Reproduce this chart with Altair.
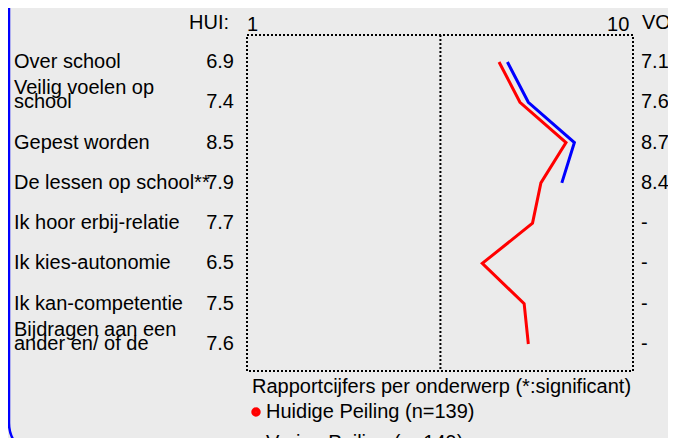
import altair as alt
import pandas as pd

# ---- data ----
categories = [
    "Over school",
    "Veilig voelen op|school",
    "Gepest worden",
    "De lessen op school**",
    "Ik hoor erbij-relatie",
    "Ik kies-autonomie",
    "Ik kan-competentie",
    "Bijdragen aan een|ander en/ of de",
]
hui_values = [6.9, 7.4, 8.5, 7.9, 7.7, 6.5, 7.5, 7.6]
vo_values = [7.1, 7.6, 8.7, 8.4, None, None, None, None]
series_names = ["Huidige Peiling (n=139)", "Vorige Peiling (n=149)"]
series_colors = ["#FF0000", "#0000FF"]
legend_title = "Rapportcijfers per onderwerp (*:significant)"
x_tick_values = [1, 10]
x_domain = [0.88, 10.1]
mid_value = [5.5]
headers = ["HUI:", "VO:"]
missing_label = "-"

FONT = "Liberation Sans"
FS = 20
LH = 14.5

# ---- tables ----
rows = []
for i, (c, v) in enumerate(zip(categories, hui_values)):
    rows.append({"category": c, "idx": i, "value": v, "series": series_names[0]})
for i, (c, v) in enumerate(zip(categories, vo_values)):
    if v is not None:
        rows.append({"category": c, "idx": i, "value": v, "series": series_names[1]})
df_line = pd.DataFrame(rows)

df_text = pd.DataFrame({
    "category": categories,
    "hui": [f"{v:.1f}" for v in hui_values],
    "vo": [f"{v:.1f}" if v is not None else missing_label for v in vo_values],
})
df_mid = pd.DataFrame({"value": mid_value})
df_one = pd.DataFrame({"a": [0]})

color_scale = alt.Scale(domain=series_names, range=series_colors)

x_enc = alt.X(
    "value:Q",
    title=None,
    scale=alt.Scale(domain=x_domain, nice=False, zero=False),
    axis=alt.Axis(
        orient="top", values=x_tick_values, ticks=False, tickSize=0,
        domain=False, grid=False, labelPadding=1, labelFontSize=FS, labelColor="black",
        labelFont=FONT,
        labelAlign={
            "condition": {"test": f"datum.value >= {x_tick_values[-1]}", "value": "right"},
            "value": "center",
        },
    ),
)
y_enc = alt.Y(
    "category:N",
    title=None,
    sort=categories,
    scale=alt.Scale(type="point", padding=0.67),
    axis=None,
)

frame = alt.Chart(df_one).mark_rect(
    cornerRadius=34, fillOpacity=0, stroke="#0000FF", strokeWidth=2.5
).encode(
    x=alt.value(-238), x2=alt.value(432), y=alt.value(-80), y2=alt.value(422)
)

mid_rule = alt.Chart(df_mid).mark_rule(
    color="black", strokeWidth=2, strokeDash=[2, 2]
).encode(x=x_enc)

lines = alt.Chart(df_line).mark_line().encode(
    x=x_enc,
    y=y_enc,
    strokeWidth=alt.value(3),
    stroke=alt.Stroke(
        "series:N", scale=color_scale,
        legend=alt.Legend(
            title=None, orient="none", legendX=-1, legendY=367,
            labelFontSize=FS, labelColor="black", labelFont=FONT,
            labelLimit=800, symbolType="circle", symbolSize=20, symbolStrokeWidth=5,
            rowPadding=5, labelOffset=0, padding=0,
        ),
    ),
    order=alt.Order("idx:Q"),
)

legend_head = alt.Chart(df_one).mark_text(
    align="left", baseline="alphabetic", fontSize=FS, font=FONT, color="black"
).encode(x=alt.value(5), y=alt.value(358), text=alt.value(legend_title))

cat_single = alt.Chart(df_text).transform_filter(
    "indexof(datum.category, '|') < 0"
).mark_text(
    align="left", baseline="middle", fontSize=FS, font=FONT, color="black"
).encode(y=y_enc, x=alt.value(-233), text="category:N")

cat_multi = alt.Chart(df_text).transform_filter(
    "indexof(datum.category, '|') >= 0"
).mark_text(
    align="left", baseline="middle", fontSize=FS, font=FONT, color="black",
    lineBreak="|", lineHeight=LH, dy=-LH,
).encode(y=y_enc, x=alt.value(-233), text="category:N")

hui_text = alt.Chart(df_text).mark_text(
    align="right", baseline="middle", fontSize=FS, font=FONT, color="black"
).encode(y=y_enc, x=alt.value(-13), text="hui:N")

vo_text = alt.Chart(df_text).mark_text(
    align="left", baseline="middle", fontSize=FS, font=FONT, color="black"
).encode(y=y_enc, x=alt.value(394), text="vo:N")

hui_head = alt.Chart(df_one).mark_text(
    align="right", baseline="alphabetic", fontSize=FS, font=FONT, color="black"
).encode(x=alt.value(-18), y=alt.value(-6), text=alt.value(headers[0]))

vo_head = alt.Chart(df_one).mark_text(
    align="left", baseline="alphabetic", fontSize=FS, font=FONT, color="black"
).encode(x=alt.value(395), y=alt.value(-6), text=alt.value(headers[1]))

chart = alt.layer(
    frame, mid_rule, lines, legend_head, cat_single, cat_multi, hui_text, vo_text,
    hui_head, vo_head
).properties(
    width=386, height=336,
    autosize=alt.AutoSizeParams(type="none"),
    padding={"left": 239, "top": 27, "right": 35, "bottom": 67},
).configure(
    background="#EBEBEB", font=FONT,
).configure_view(
    stroke="black", strokeWidth=2, strokeDash=[2, 2],
)

chart.save("out.html", embed_options={"renderer": "svg", "actions": False})
